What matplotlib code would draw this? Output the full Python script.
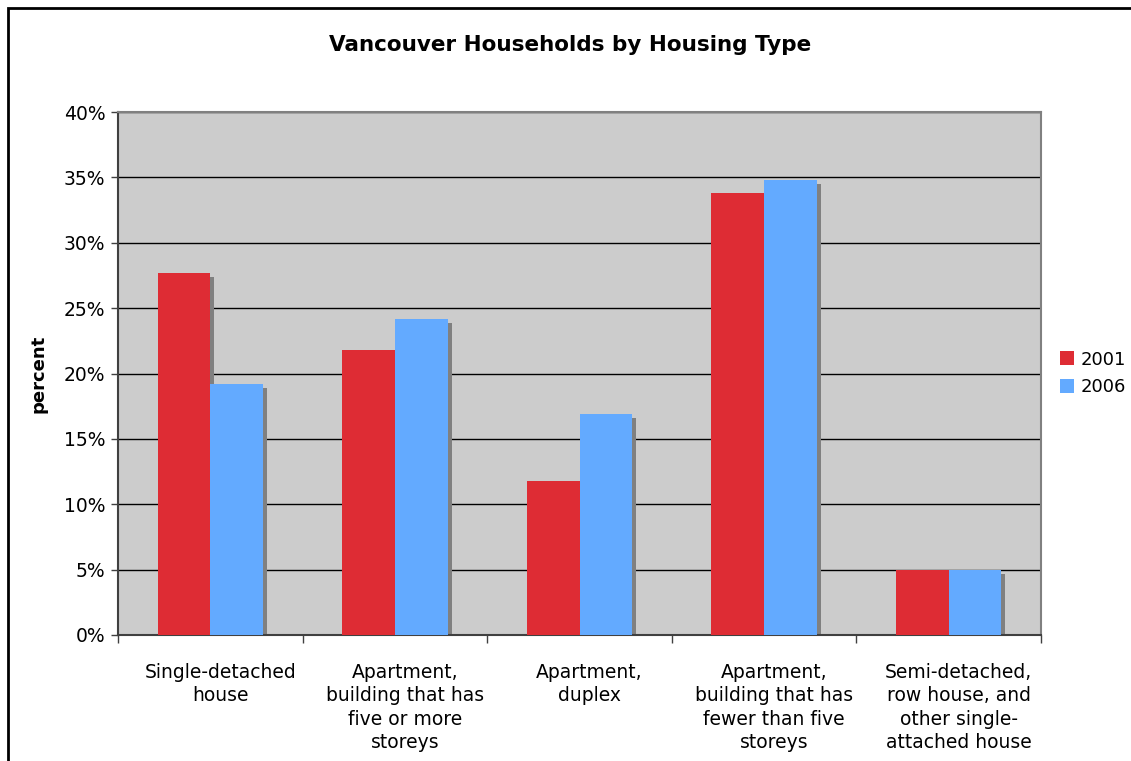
import matplotlib
matplotlib.use("Agg")
import matplotlib.pyplot as plt
import matplotlib.transforms as mtransforms
from matplotlib.patches import Rectangle
import numpy as np

categories = [
    "Single-detached\nhouse",
    "Apartment,\nbuilding that has\nfive or more\nstoreys",
    "Apartment,\nduplex",
    "Apartment,\nbuilding that has\nfewer than five\nstoreys",
    "Semi-detached,\nrow house, and\nother single-\nattached house",
]
series_names = ["2001", "2006"]
values_2001 = [27.7, 21.8, 11.8, 33.8, 5.0]
values_2006 = [19.2, 24.2, 16.9, 34.8, 5.0]
yticks = [0, 5, 10, 15, 20, 25, 30, 35, 40]
ytick_labels = [f"{v}%" for v in yticks]

red = "#DE2C34"
blue = "#63AAFF"
shadow = "#808080"

W, H = 1131, 761
fig = plt.figure(figsize=(W / 100, H / 100), dpi=100)
fig.patch.set_facecolor("white")

# outer chart border (left and top visible)
fig.patches.append(Rectangle((8 / W, -0.1), 1.2, 1 - 8 / H + 0.1, transform=fig.transFigure,
                             fill=False, edgecolor="black", linewidth=2))

ax = fig.add_axes([118 / W, 1 - 635 / H, (1041 - 118) / W, (635 - 112) / H])
ax.set_facecolor("#CCCCCC")

n = len(categories)
x = np.arange(n)
bw = 0.286

# shadows
sh = mtransforms.offset_copy(ax.transData, fig=fig, x=4, y=-4, units="dots")
for vals, off in ((values_2001, -bw / 2), (values_2006, bw / 2)):
    ax.bar(x + off, vals, width=bw, color=shadow, transform=sh, zorder=2, linewidth=0)

ax.bar(x - bw / 2, values_2001, width=bw, color=red, label=series_names[0], zorder=3, linewidth=0)
ax.bar(x + bw / 2, values_2006, width=bw, color=blue, label=series_names[1], zorder=3, linewidth=0)

ax.set_xlim(-0.5, n - 0.5)
ax.set_ylim(0, 40)
ax.set_yticks(yticks)
ax.set_yticklabels(ytick_labels, fontsize=13.5, color="black")
ax.yaxis.grid(True, color="black", linewidth=1, zorder=1)
ax.set_axisbelow(True)

ax.set_xticks(np.arange(n + 1) - 0.5)
ax.set_xticklabels([])
ax.set_xticks(x, minor=True)
ax.set_xticklabels(categories, minor=True, fontsize=13.5, linespacing=1.3, va="top")
ax.tick_params(axis="x", which="minor", length=0, pad=20)
ax.tick_params(axis="x", which="major", length=6, width=1, color="#404040", direction="out")
ax.tick_params(axis="y", length=5, width=1, color="#404040", direction="out", pad=4)
for lbl in ax.get_xticklabels(minor=True):
    lbl.set_transform(lbl.get_transform() + mtransforms.ScaledTranslation(10 / 100, 0, fig.dpi_scale_trans))

for s in ("left", "bottom"):
    ax.spines[s].set_color("#404040")
    ax.spines[s].set_linewidth(1.5)
for s in ("top", "right"):
    ax.spines[s].set_color("#808080")
    ax.spines[s].set_linewidth(1.5)

ax.set_ylabel("percent", fontsize=13, fontweight="bold", labelpad=12)
fig.text(570 / W, 1 - 45 / H, "Vancouver Households by Housing Type", ha="center", va="center",
         fontsize=15.5, fontweight="bold")

ax.legend(loc="center left", bbox_to_anchor=(1.003, 0.5), frameon=False, fontsize=13,
          handlelength=0.8, handleheight=0.8, handletextpad=0.35, labelspacing=0.55)

fig.savefig("out.png", dpi=100)
